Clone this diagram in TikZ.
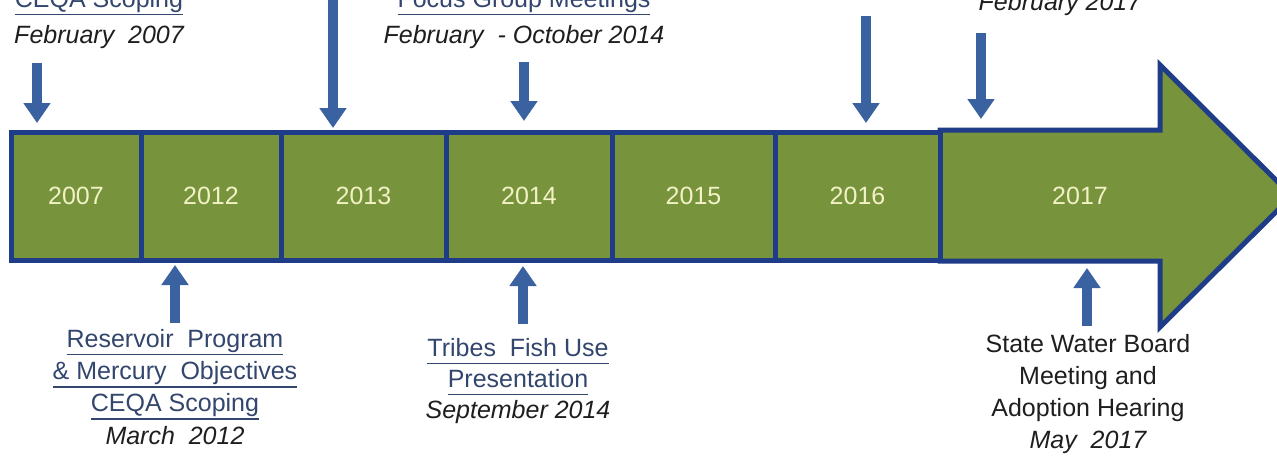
\documentclass[tikz,border=0pt]{standalone}
\usepackage{fontspec}
\setmainfont{Liberation Sans}
\usetikzlibrary{arrows.meta}
\definecolor{bargreen}{HTML}{77933C}
\definecolor{barblue}{HTML}{1F3C88}
\definecolor{arrowblue}{HTML}{3A62A0}
\definecolor{yeartext}{HTML}{F2F2C6}
\definecolor{linkblue}{HTML}{33466E}
\definecolor{bodytext}{HTML}{1E1E1E}
\newcommand{\lnk}[1]{\setbox0\hbox{#1}\rlap{\rule[-8pt]{\wd0}{1.8pt}}\box0}
\begin{document}
\begin{tikzpicture}[x=1pt,y=-1pt,
  seg/.style={draw=barblue, line width=5pt, fill=bargreen, text=yeartext,
    font=\fontsize{25}{28}\selectfont, inner sep=0pt, minimum height=128pt},
  yearlbl/.style={text=yeartext, font=\fontsize{25}{28}\selectfont, inner sep=0pt},
  evlabel/.style={align=center, font=\fontsize{25}{32.3}\selectfont, text=bodytext,
    inner sep=0pt, anchor=north},
  evarrow/.style={line width=10pt, draw=arrowblue,
    -{Triangle[width=26pt,length=20pt]}}
]
\useasboundingbox (0,0) rectangle (1277,456);
\fill[white] (0,0) rectangle (1277,456);
\clip (0,0) rectangle (1277,456);

% big arrow (2017)
\draw[draw=barblue, line width=5pt, fill=bargreen, line join=miter]
  (940,130) -- (1160,130) -- (1160,65) -- (1292,196) -- (1160,327)
  -- (1160,261) -- (940,261) -- cycle;
\node[yearlbl] (s2017) at (1080,196) {2017};

% segments
\node[seg, minimum width=130pt] (s2007) at (76,196) {2007};
\node[seg, minimum width=140pt] (s2012) at (211,196) {2012};
\node[seg, minimum width=165pt] (s2013) at (363.5,196) {2013};
\node[seg, minimum width=166pt] (s2014) at (529,196) {2014};
\node[seg, minimum width=163pt] (s2015) at (693.5,196) {2015};
\node[seg, minimum width=165pt] (s2016) at (857.5,196) {2016};

% top labels (cut off at the top edge, as in the reference)
\node[evlabel, font=\fontsize{25}{36}\selectfont] (t2007) at (99,-11)
  {{\color{linkblue}\lnk{CEQA Scoping}}\\\itshape February\ \ 2007};
\node[evlabel, font=\fontsize{25}{36}\selectfont] (t2014) at (524,-11)
  {{\color{linkblue}\lnk{Focus Group Meetings}}\\\itshape February\ \ - October 2014};
\node[evlabel] (t2017) at (1060,-8) {\itshape February 2017};

% bottom labels
\node[evlabel] (b2012) at (175,329)
  {{\color{linkblue}\lnk{Reservoir\ \ Program}}\\
   {\color{linkblue}\lnk{\& Mercury\ \ Objectives}}\\
   {\color{linkblue}\lnk{CEQA Scoping}}\\
   \itshape March\ \ 2012};
\node[evlabel, font=\fontsize{25}{31}\selectfont] (b2014) at (518,338)
  {{\color{linkblue}\lnk{Tribes\ \ Fish Use}}\\
   {\color{linkblue}\lnk{Presentation}}\\
   \itshape September 2014};
\node[evlabel, font=\fontsize{25}{32}\selectfont] (b2017) at (1088,334)
  {State Water Board\\Meeting and\\Adoption Hearing\\\itshape May\ \ 2017};

% connector end points
\coordinate (a1s) at (37,63);   \coordinate (a1e) at (37,123);
\coordinate (a2s) at (333,-5);  \coordinate (a2e) at (333,128);
\coordinate (a3s) at (524,62);  \coordinate (a3e) at (524,121);
\coordinate (a4s) at (866,16);  \coordinate (a4e) at (866,123);
\coordinate (a5s) at (981,33);  \coordinate (a5e) at (981,119);
\coordinate (b1s) at (175,323); \coordinate (b1e) at (175,265);
\coordinate (b2s) at (523,324); \coordinate (b2e) at (523,266);
\coordinate (b3s) at (1087,326);\coordinate (b3e) at (1087,268);

\draw[evarrow] (a1s) -- (a1e);
\draw[evarrow] (a2s) -- (a2e);
\draw[evarrow] (a3s) -- (a3e);
\draw[evarrow] (a4s) -- (a4e);
\draw[evarrow] (a5s) -- (a5e);
\draw[evarrow] (b1s) -- (b1e);
\draw[evarrow] (b2s) -- (b2e);
\draw[evarrow] (b3s) -- (b3e);
\end{tikzpicture}
\end{document}
